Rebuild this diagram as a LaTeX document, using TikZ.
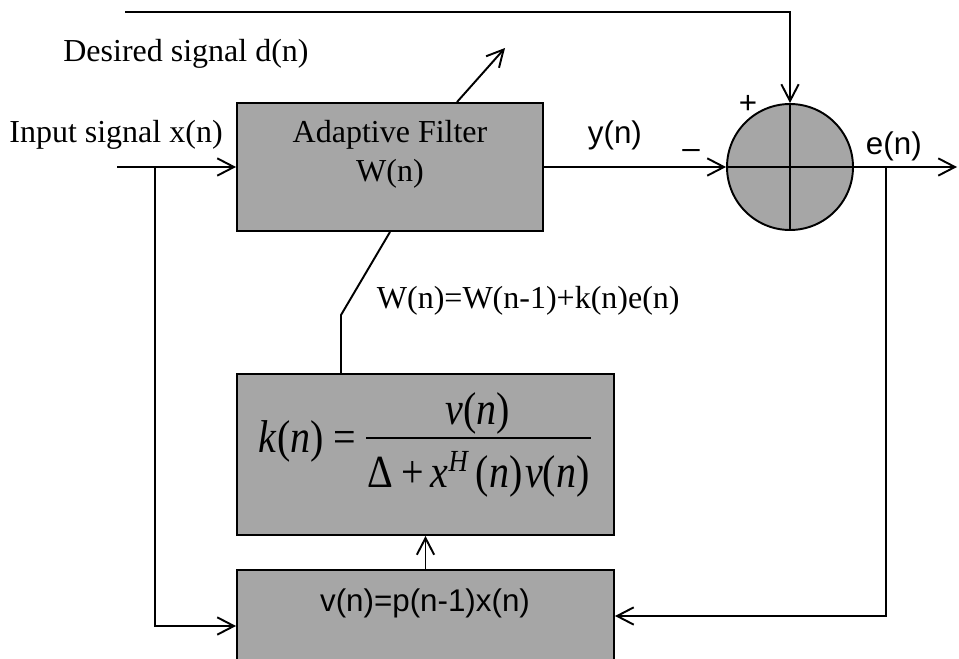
\documentclass[tikz,border=0pt]{standalone}
\usepackage{fontspec}
\usepackage{graphicx}
\setmainfont{Liberation Serif}
\newfontfamily\arialfont{Liberation Sans}
\usetikzlibrary{arrows.meta,calc}
\definecolor{boxgray}{RGB}{166,166,166}
% tall formula lettering
\newcommand\tallfrm[1]{\scalebox{1}[1.15]{#1}}
\begin{document}
\begin{tikzpicture}[x=0.75pt,y=-0.75pt,line width=1.45pt,
  arr/.style={-{Straight Barb[length=12.5pt,width=13pt]}},
  blk/.style={draw,fill=boxgray,rectangle,inner sep=0pt},
  serif/.style={font=\fontsize{24}{30}\selectfont,inner sep=0pt},
  sans/.style={font=\arialfont\fontsize{23.5}{28}\selectfont,inner sep=0pt},
  frm/.style={font=\fontsize{30}{36}\selectfont,inner sep=0pt},
]
\useasboundingbox (0,0) rectangle (959,659);
\clip (0,0) rectangle (959,659);

% blocks
\node[blk,minimum width=229.5pt,minimum height=96pt] (filt) at (390,167) {};
\node[blk,minimum width=282.75pt,minimum height=120.75pt] (kbox) at (425.5,454.5) {};
\node[blk,minimum width=282.75pt,minimum height=97.5pt] (vbox) at (425.5,635) {};
\node[blk,circle,minimum size=94.5pt] (sum) at (790,167) {};
\draw (sum.north) -- (sum.south);
\draw (sum.west) -- (sum.east);

% block texts
\node[serif,anchor=base] (fname) at (390,143) {Adaptive Filter};
\node[serif,anchor=base] (fw) at (390,182) {W(n)};

% gain formula k(n) = v(n) / (Delta + x^H(n) v(n))
\node[frm,anchor=base west] (klhs) at (258,452)
  {\tallfrm{\textit{k}(\textit{n})\hspace{7pt}=}};
\node[frm,anchor=base] (knum) at (478,424)
  {\tallfrm{\textit{v}(\textit{n})}};
\draw[line width=1.5pt] (366,438) -- (591,438);
\node[frm,anchor=base west] (kden) at (367,487)
  {\tallfrm{Δ\hspace{5.5pt}+\hspace{5pt}\textit{x}\hspace{0.5pt}\raisebox{10pt}{\fontsize{20}{20}\selectfont\itshape H}\hspace{6pt}(\textit{n})\hspace{2pt}\textit{v}(\textit{n})}};

\node[sans,anchor=base] (vtxt) at (425,611) {v(n)=p(n-1)x(n)};

% signal labels
\node[serif,anchor=base] (dlbl) at (186,62) {Desired signal d(n)};
\node[serif,anchor=base] (xlbl) at (116,143) {Input signal x(n)};
\node[serif,anchor=base west] (wlbl) at (376,308) {W(n)=W(n-1)+k(n)e(n)};
\node[sans,anchor=base west] (ylbl) at (587,144) {y(n)};
\node[sans,anchor=base west] (elbl) at (865,155) {e(n)};
\node[sans,anchor=base] (minus) at (691,159) {–};
\node[sans,anchor=base] (plus) at (748,114) {+};

% connector end points
\coordinate (dstart) at (125,12);
\coordinate (xin) at (117,167);
\coordinate (xbr) at (155,167);
\coordinate (xbl) at (155,626);
\coordinate (ebr) at (886,167);
\coordinate (ebl) at (886,616);
\coordinate (eout) at (957,167);
\coordinate (kbend) at (341,315);
\coordinate (tune0) at ($(filt.north)+(67,0)$);
\coordinate (tune1) at (505,48);

% connectors
\draw[arr] (dstart) -- (dstart -| sum.north) -- (sum.north);
\draw[arr] (xin) -- (filt.west);
\draw[arr] (xbr) -- (xbl) -- (xbl -| vbox.west);
\draw[arr] (filt.east) -- (sum.west);
\draw[arr] (sum.east) -- (eout);
\draw[arr] (ebr) -- (ebl) -- (ebl -| vbox.east);
\draw[arr] (vbox.north) -- (kbox.south);
\draw (filt.south) -- (kbend) -- (kbend |- kbox.north);
\draw[arr] (tune0) -- (tune1);
\end{tikzpicture}
\end{document}
